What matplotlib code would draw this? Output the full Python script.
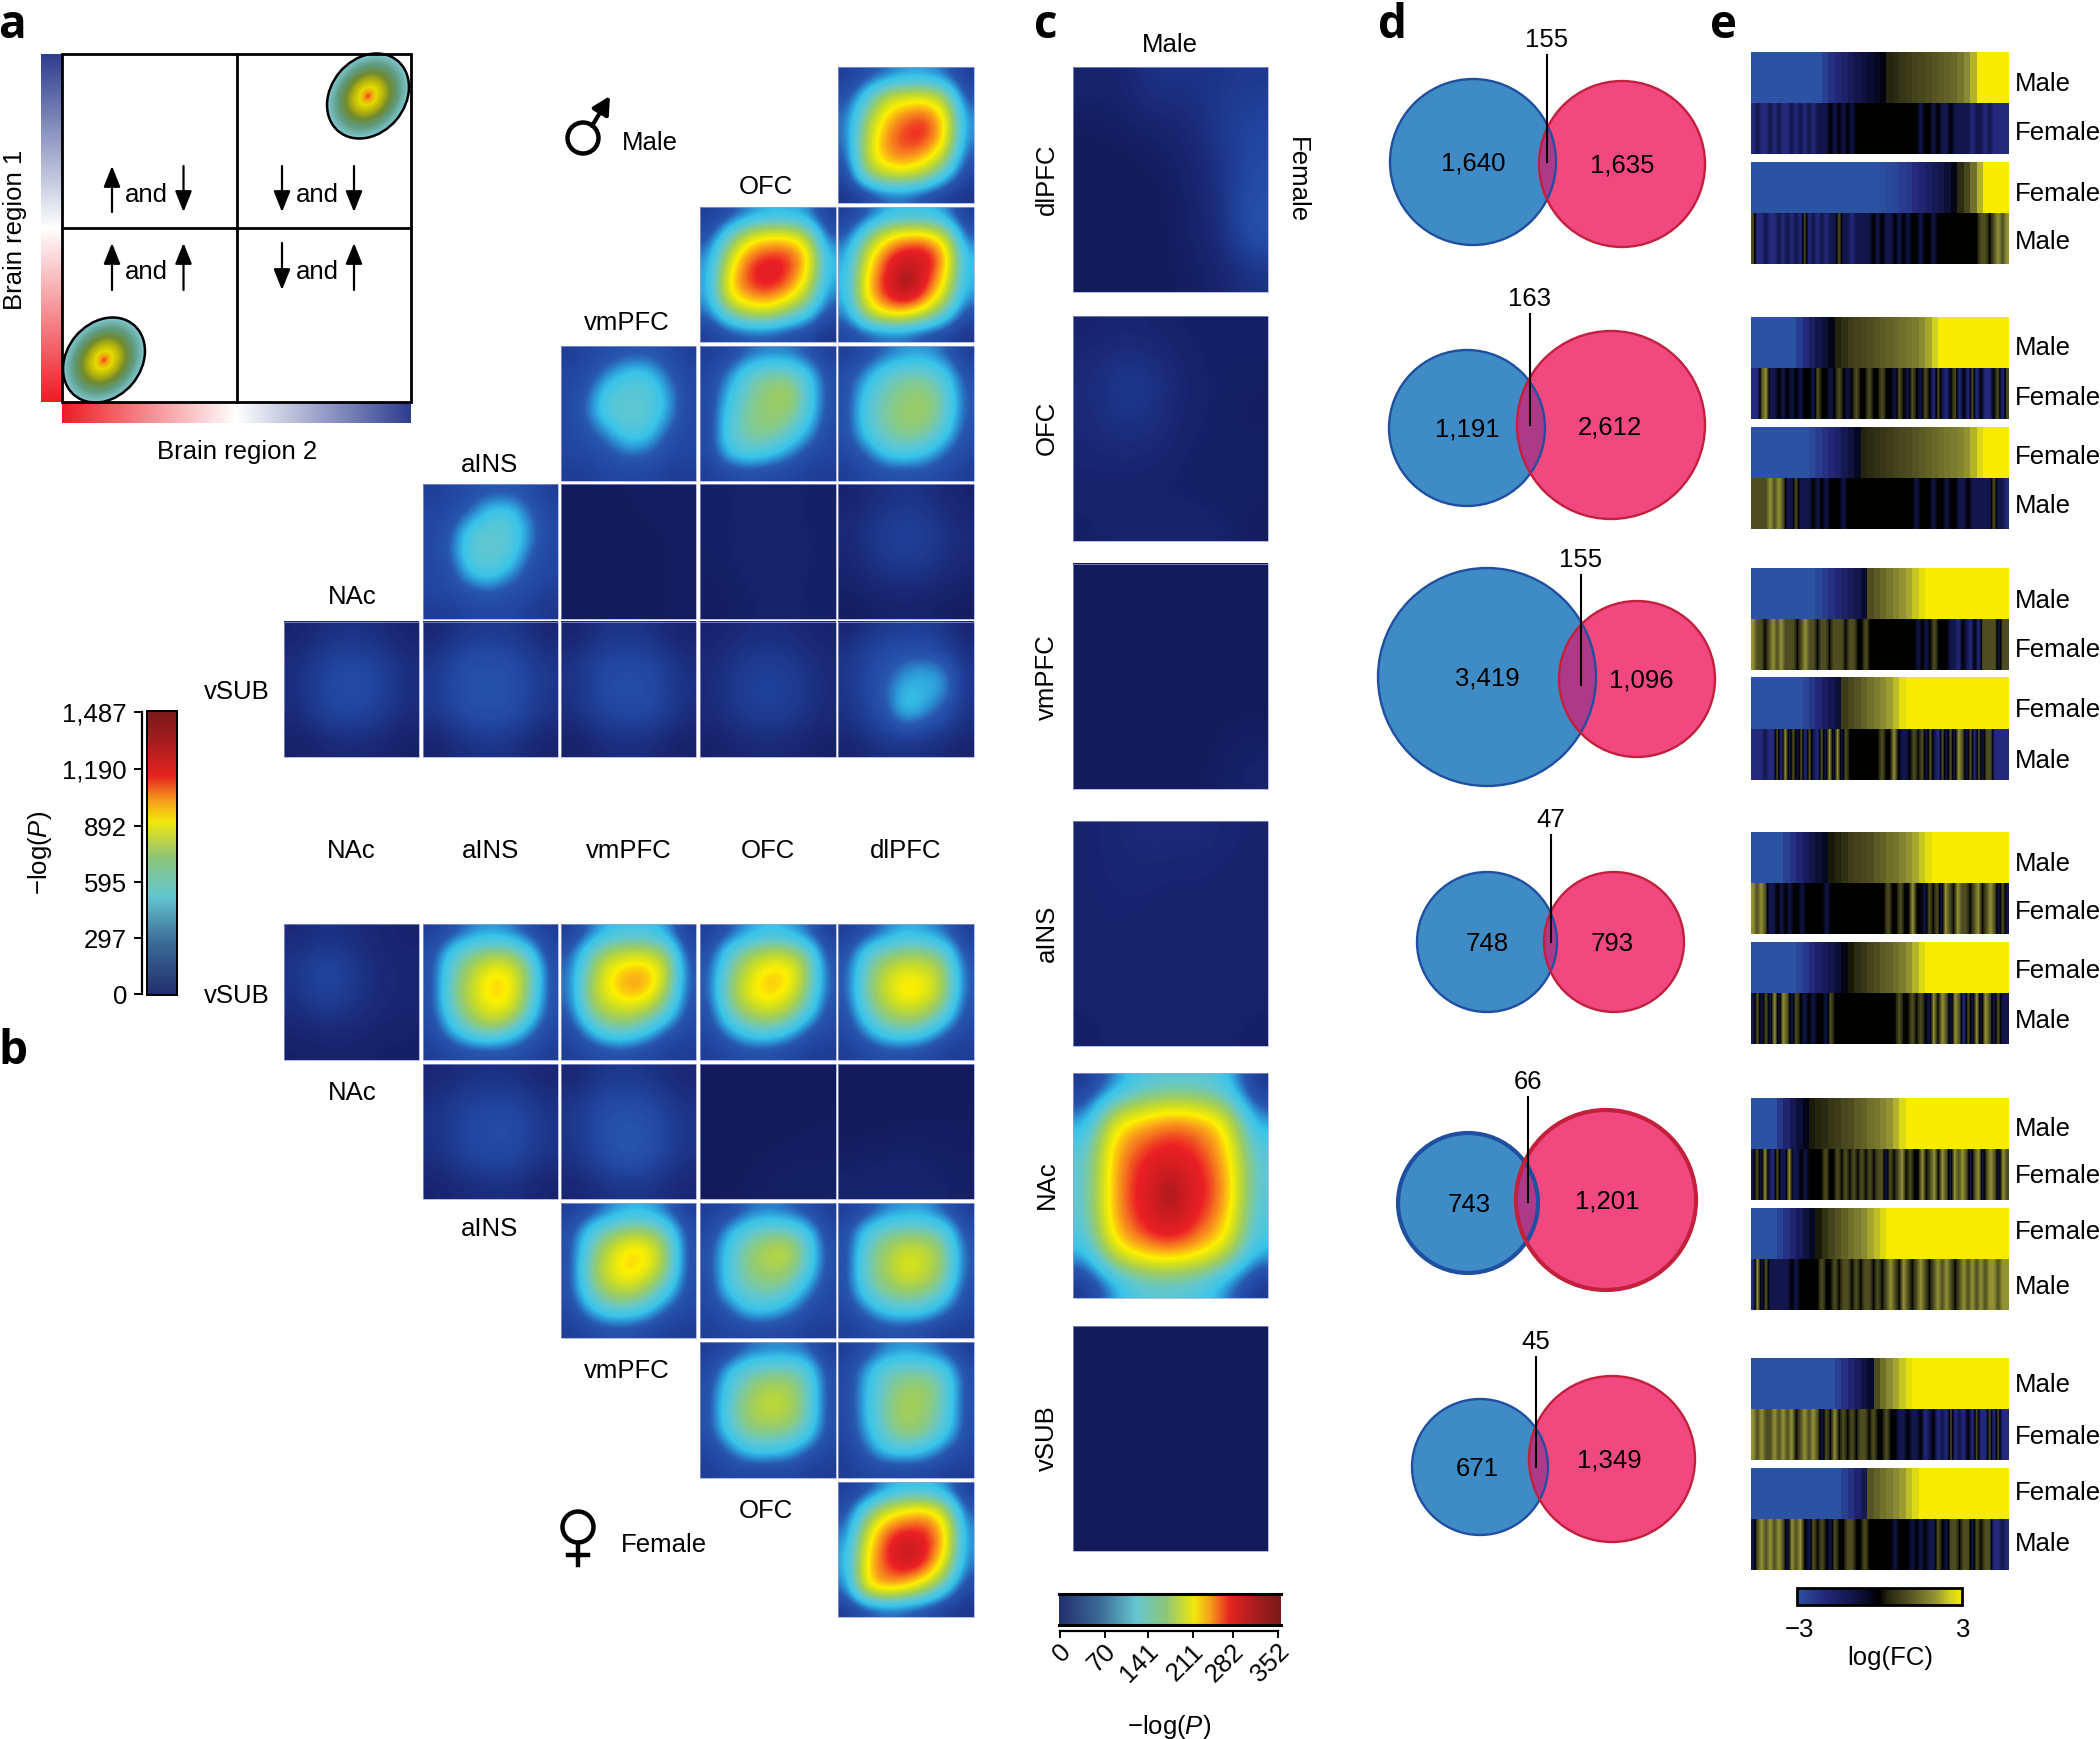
import matplotlib
import numpy as np

matplotlib.use("Agg")
import matplotlib.pyplot as plt
from matplotlib.colors import LinearSegmentedColormap
from matplotlib.patches import Circle, Ellipse, Rectangle

plt.rcParams["font.family"] = ["Liberation Sans", "DejaVu Sans"]
plt.rcParams["mathtext.fontset"] = "custom"
plt.rcParams["mathtext.it"] = "Liberation Sans:italic"
plt.rcParams["mathtext.rm"] = "Liberation Sans"

# --- values ---
REGIONS = ["NAc", "aINS", "vmPFC", "OFC", "dlPFC"]
LEFT_TICKS = ["0", "297", "595", "892", "1,190", "1,487"]
C_TICKS = ["0", "70", "141", "211", "282", "352"]
C_LABELS = ["dlPFC", "OFC", "vmPFC", "aINS", "NAc", "vSUB"]

# male triangle, cells are top to bottom, 0 = navy, 1 = darkest red
M_R1C5 = [[.10, .14, .18, .22, .22, .18, .10], [.14, .30, .50, .54, .56, .46, .14], [.18, .42, .64, .72, .76, .62, .20],
          [.18, .50, .70, .78, .80, .64, .20], [.16, .52, .70, .74, .68, .52, .16], [.12, .44, .54, .56, .48, .30, .12],
          [.08, .12, .18, .18, .14, .10, .08]]
M_R2C4 = [[.10, .14, .20, .24, .24, .22, .10], [.14, .34, .54, .60, .60, .50, .16], [.20, .50, .72, .78, .78, .66, .24],
          [.22, .60, .78, .84, .78, .62, .24], [.22, .62, .72, .76, .68, .50, .20], [.18, .38, .50, .52, .40, .30, .14],
          [.10, .14, .16, .16, .14, .12, .08]]
M_R2C5 = [[.10, .16, .24, .26, .26, .22, .10], [.16, .38, .58, .66, .66, .54, .16], [.22, .54, .76, .84, .84, .70, .24],
          [.24, .62, .80, .92, .82, .64, .24], [.24, .64, .80, .92, .78, .54, .22], [.20, .50, .64, .64, .52, .34, .14],
          [.12, .16, .18, .18, .14, .12, .08]]
M_R3C3 = [[.10, .12, .14, .16, .16, .14, .10], [.12, .14, .22, .29, .29, .18, .12], [.12, .18, .32, .33, .33, .24, .12],
          [.12, .20, .33, .35, .33, .24, .12], [.12, .15, .22, .31, .29, .16, .12], [.12, .13, .15, .20, .18, .13, .12],
          [.10, .10, .12, .12, .12, .10, .10]]
M_R3C4 = [[.10, .12, .18, .20, .20, .16, .10], [.12, .20, .34, .40, .40, .30, .14], [.12, .26, .38, .44, .48, .34, .14],
          [.12, .30, .40, .44, .44, .32, .14], [.12, .32, .40, .42, .36, .24, .12], [.12, .28, .33, .30, .22, .14, .12],
          [.10, .12, .14, .12, .12, .10, .10]]
M_R3C5 = [[.10, .14, .18, .22, .22, .18, .10], [.14, .22, .34, .38, .38, .30, .14], [.14, .30, .38, .43, .44, .36, .16],
          [.14, .32, .40, .45, .46, .36, .16], [.14, .30, .38, .42, .40, .30, .14], [.12, .18, .30, .32, .28, .18, .12],
          [.10, .12, .14, .14, .14, .12, .10]]
M_R4C2 = [[.10, .12, .14, .16, .16, .14, .10], [.12, .13, .18, .29, .30, .18, .12], [.12, .16, .32, .34, .33, .22, .12],
          [.12, .18, .33, .35, .33, .18, .12], [.12, .14, .29, .32, .24, .14, .12], [.12, .13, .15, .18, .14, .13, .10],
          [.10, .10, .12, .12, .12, .10, .08]]
M_R4C3 = [[.00, .01, .01], [.00, .00, .01], [.00, .00, .01]]
M_R4C4 = [[.02, .03, .02], [.02, .04, .02], [.01, .03, .02]]
M_R4C5 = [[.03, .06, .08, .06, .03], [.05, .09, .11, .09, .05], [.04, .09, .11, .09, .05],
          [.03, .06, .07, .06, .03], [.01, .02, .03, .02, .01]]
M_R5C1 = [[.03, .06, .07, .06, .03], [.06, .11, .13, .11, .06], [.06, .12, .14, .12, .06],
          [.05, .11, .12, .10, .05], [.02, .04, .05, .04, .02]]
M_R5C2 = [[.04, .08, .09, .08, .04], [.08, .14, .15, .13, .08], [.09, .15, .16, .14, .08],
          [.08, .13, .15, .13, .07], [.03, .06, .08, .06, .03]]
M_R5C3 = [[.03, .07, .08, .06, .03], [.07, .12, .13, .12, .06], [.07, .13, .14, .13, .07],
          [.06, .11, .13, .12, .06], [.02, .05, .06, .05, .02]]
M_R5C4 = [[.03, .05, .06, .05, .03], [.05, .09, .10, .09, .05], [.05, .10, .12, .10, .05],
          [.05, .09, .10, .09, .05], [.02, .04, .05, .04, .02]]
M_R5C5 = [[.04, .07, .09, .10, .10, .08, .04], [.07, .11, .13, .14, .14, .11, .06], [.08, .12, .15, .21, .23, .20, .08],
          [.08, .12, .18, .26, .25, .23, .08], [.07, .11, .16, .29, .23, .16, .07], [.06, .09, .12, .16, .13, .10, .06],
          [.03, .05, .07, .07, .06, .05, .03]]

# female triangle
F_R1C1 = [[.05, .07, .06, .04, .03], [.08, .13, .09, .05, .04], [.07, .13, .09, .05, .04],
          [.05, .07, .06, .04, .03], [.02, .03, .03, .02, .02]]
F_R1C2 = [[.10, .14, .20, .22, .20, .14, .10], [.14, .30, .40, .44, .44, .32, .12], [.14, .36, .48, .62, .60, .42, .14],
          [.14, .38, .52, .65, .62, .40, .14], [.14, .34, .48, .58, .56, .34, .14], [.12, .24, .36, .42, .34, .20, .12],
          [.10, .12, .14, .14, .14, .12, .10]]
F_R1C3 = [[.10, .18, .26, .28, .28, .22, .10], [.16, .35, .48, .52, .52, .44, .14], [.18, .42, .60, .68, .68, .52, .16],
          [.18, .46, .60, .68, .66, .44, .16], [.16, .40, .50, .52, .46, .34, .14], [.12, .24, .36, .36, .28, .16, .12],
          [.10, .12, .14, .14, .12, .10, .10]]
F_R1C4 = [[.10, .16, .22, .26, .24, .18, .10], [.14, .32, .44, .50, .50, .40, .14], [.16, .38, .54, .64, .64, .46, .16],
          [.16, .42, .58, .66, .60, .42, .16], [.14, .36, .48, .54, .48, .32, .14], [.12, .22, .32, .34, .28, .16, .12],
          [.10, .12, .14, .14, .12, .10, .10]]
F_R1C5 = [[.10, .14, .20, .24, .22, .18, .10], [.14, .32, .40, .44, .44, .36, .14], [.16, .38, .52, .58, .56, .46, .16],
          [.16, .40, .54, .64, .60, .46, .16], [.14, .34, .46, .52, .48, .36, .14], [.12, .22, .34, .36, .32, .18, .12],
          [.10, .12, .14, .14, .12, .10, .10]]
F_R2C2 = [[.04, .06, .07, .06, .04], [.07, .11, .12, .12, .07], [.07, .12, .13, .14, .08],
          [.06, .11, .13, .12, .07], [.03, .05, .06, .06, .03]]
F_R2C3 = [[.04, .08, .09, .07, .04], [.08, .13, .14, .12, .07], [.08, .14, .18, .14, .08],
          [.07, .13, .17, .13, .07], [.04, .06, .08, .07, .04]]
F_R2C4 = [[.00, .00, .00], [.00, .00, .01], [.00, .02, .02]]
F_R2C5 = [[.00, .00, .00], [.00, .01, .01], [.03, .04, .02]]
F_R3C3 = [[.10, .14, .20, .24, .24, .18, .10], [.14, .30, .40, .46, .46, .36, .14], [.14, .36, .52, .64, .62, .44, .14],
          [.14, .40, .56, .65, .58, .42, .14], [.14, .36, .48, .52, .44, .30, .14], [.12, .24, .34, .34, .28, .16, .12],
          [.10, .12, .14, .14, .12, .10, .10]]
F_R3C4 = [[.10, .12, .18, .20, .18, .14, .10], [.12, .24, .34, .38, .38, .30, .12], [.14, .30, .42, .50, .52, .36, .14],
          [.14, .30, .42, .46, .46, .32, .14], [.12, .30, .36, .40, .36, .22, .12], [.12, .16, .28, .28, .22, .14, .12],
          [.10, .12, .12, .12, .12, .10, .10]]
F_R3C5 = [[.10, .14, .20, .22, .22, .16, .10], [.14, .30, .38, .40, .40, .34, .14], [.14, .36, .46, .54, .52, .42, .16],
          [.14, .38, .46, .58, .52, .42, .16], [.14, .34, .42, .46, .44, .34, .14], [.12, .20, .30, .32, .30, .20, .12],
          [.10, .12, .14, .14, .12, .10, .10]]
F_R4C4 = [[.10, .12, .18, .20, .20, .18, .10], [.12, .26, .36, .38, .40, .34, .14], [.14, .32, .42, .50, .48, .38, .14],
          [.14, .34, .46, .52, .50, .38, .14], [.14, .32, .42, .44, .42, .34, .14], [.12, .18, .30, .30, .28, .18, .12],
          [.10, .12, .12, .12, .12, .10, .10]]
F_R4C5 = [[.10, .14, .20, .22, .20, .16, .10], [.12, .24, .36, .38, .38, .32, .14], [.12, .26, .38, .46, .46, .36, .14],
          [.12, .26, .40, .48, .44, .34, .14], [.12, .24, .38, .46, .42, .32, .14], [.10, .18, .30, .32, .28, .18, .12],
          [.10, .12, .12, .12, .12, .10, .10]]
F_R5C5 = [[.10, .14, .22, .26, .26, .22, .10], [.14, .36, .54, .62, .66, .52, .16], [.18, .52, .74, .78, .78, .66, .20],
          [.22, .60, .78, .90, .82, .64, .20], [.22, .64, .76, .82, .76, .52, .18], [.18, .62, .68, .62, .48, .30, .12],
          [.10, .14, .18, .16, .14, .10, .08]]

# panel c, male vs female per region
C_DLPFC = [[.03, .03, .08, .07, .08, .09], [.01, .02, .03, .04, .09, .12], [.00, .00, .01, .03, .07, .13],
           [.00, .00, .00, .02, .06, .15], [.00, .00, .00, .02, .05, .16], [.00, .00, .00, .01, .03, .07]]
C_OFC = [[.03, .04, .03, .02, .02, .02], [.05, .09, .08, .03, .02, .02], [.05, .09, .07, .03, .02, .01],
         [.04, .05, .05, .02, .02, .02], [.03, .03, .02, .02, .01, .02], [.02, .03, .03, .03, .03, .01]]
C_VMPFC = [[.00, .00, .00, .00], [.00, .00, .00, .00], [.00, .00, .00, .00], [.00, .00, .00, .03]]
C_AINS = [[.03, .05, .05, .05, .03], [.03, .04, .03, .03, .02], [.03, .03, .02, .03, .03],
          [.03, .03, .03, .03, .03], [.02, .03, .03, .03, .02]]
C_NAC = [[.08, .20, .30, .32, .32, .28, .08], [.22, .60, .66, .74, .70, .60, .22], [.32, .68, .78, .80, .78, .66, .32],
         [.32, .70, .80, .94, .80, .72, .32], [.32, .70, .80, .90, .78, .68, .30], [.26, .60, .70, .74, .68, .56, .26],
         [.08, .22, .32, .32, .30, .20, .08]]
C_VSUB = [[.00, .00], [.00, .00]]

# panel d
BLUE_ONLY = ["1,640", "1,191", "3,419", "748", "743", "671"]
PINK_ONLY = ["1,635", "2,612", "1,096", "793", "1,201", "1,349"]
OVERLAP = ["155", "163", "155", "47", "66", "45"]

# panel e, sorted strip (top) of each block, log(FC)
E1A_TOP = [-3, -3, -3, -3, -3, -3, -3, -3, -3, -3, -3, -2.6, -2.2, -1.9, -1.6, -1.3, -1, -.8, -.6, -.4, -.2,
           .3, .4, .6, .7, .8, .9, 1, 1.1, 1.2, 1.3, 1.4, 1.6, 1.9, 2.3, 3, 3, 3, 3, 3]
E1B_TOP = [-3, -3, -3, -3, -3, -3, -3, -3, -3, -3, -3, -3, -3, -3, -3, -3, -3, -3, -3, -3, -2.9, -2.8, -2.7, -2.5,
           -2.3, -2, -1.8, -1.5, -1.2, -1, -.7, -.3, .4, .9, 1.5, 2.3, 3, 3, 3, 3]
E2A_TOP = [-3, -3, -3, -3, -3, -3, -3, -2.5, -2, -1.5, -1, -.7, -.3, .3, .5, .7, .8, .9, 1, 1.1, 1.2, 1.3, 1.4,
           1.5, 1.6, 1.7, 1.9, 2.2, 2.6, 3, 3, 3, 3, 3, 3, 3, 3, 3, 3, 3]
E2B_TOP = [-3, -3, -3, -3, -3, -3, -3, -3, -3, -2.8, -2.5, -2.2, -1.9, -1.6, -1.2, -.8, -.4, .3, .4, .5, .6, .7, .8,
           .9, 1, 1.1, 1.2, 1.3, 1.4, 1.5, 1.6, 1.7, 1.8, 2, 2.3, 2.7, 3, 3, 3, 3]
E3A_TOP = [-3, -3, -3, -3, -3, -3, -3, -3, -3, -3, -2.8, -2.5, -2.2, -1.9, -1.6, -1.3, -1, -.6, 1, 1.2, 1.4, 1.6,
           1.8, 2, 2.2, 2.5, 2.8, 3, 3, 3, 3, 3, 3, 3, 3, 3, 3, 3, 3, 3]
E3B_TOP = [-3, -3, -3, -3, -3, -3, -3, -3, -2.7, -2.3, -1.9, -1.5, -1.1, -.7, .7, .9, 1.1, 1.3, 1.5, 1.7, 1.9, 2.1,
           2.4, 2.8, 3, 3, 3, 3, 3, 3, 3, 3, 3, 3, 3, 3, 3, 3, 3, 3]
E4A_TOP = [-3, -3, -3, -3, -3, -2.6, -2.2, -1.8, -1.4, -1, -.7, -.4, .2, .3, .5, .7, .8, .9, 1, 1.2, 1.3, 1.5, 1.6,
           1.8, 2, 2.2, 2.5, 2.8, 3, 3, 3, 3, 3, 3, 3, 3, 3, 3, 3, 3]
E4B_TOP = [-3, -3, -3, -3, -3, -3, -3, -2.7, -2.4, -2, -1.6, -1.3, -1, -.7, -.3, .2, .4, .6, .8, 1, 1.2, 1.3, 1.5,
           1.7, 2, 2.3, 2.7, 3, 3, 3, 3, 3, 3, 3, 3, 3, 3, 3, 3, 3]
E5A_TOP = [-3, -3, -3, -3, -2.4, -1.8, -1.2, -.7, -.3, .2, .3, .4, .6, .7, .9, 1, 1.2, 1.3, 1.5, 1.6, 1.8, 2, 2.3,
           2.7, 3, 3, 3, 3, 3, 3, 3, 3, 3, 3, 3, 3, 3, 3, 3, 3]
E5B_TOP = [-3, -3, -3, -3, -2.6, -2.2, -1.8, -1.3, -.8, -.4, .2, .5, .8, 1.1, 1.3, 1.5, 1.7, 1.9, 2.2, 2.4, 2.7,
           3, 3, 3, 3, 3, 3, 3, 3, 3, 3, 3, 3, 3, 3, 3, 3, 3, 3, 3]
E6A_TOP = [-3, -3, -3, -3, -3, -3, -3, -3, -3, -3, -3, -3, -3, -2.6, -2.2, -1.8, -1.4, -.9, -.5, 1, 1.5, 1.9, 2.2,
           2.5, 2.8, 3, 3, 3, 3, 3, 3, 3, 3, 3, 3, 3, 3, 3, 3, 3]
E6B_TOP = [-3, -3, -3, -3, -3, -3, -3, -3, -3, -3, -3, -3, -3, -3, -2.6, -2.2, -1.7, -1.2, 1.1, 1.3, 1.5, 1.7, 1.9,
           2.1, 2.4, 2.7, 3, 3, 3, 3, 3, 3, 3, 3, 3, 3, 3, 3, 3, 3]

# panel e, same genes in the other sex (bottom strip of each block)
E1A_BOT = [-2, -1, -2, -2, -1, -2, -1, -2, -2, -1, -2, -1, -2, -1, -2, -1, -1, -1, 0, -1, 0, -1, 0, -1, 0, 0, 0, 0, 0, 0,
           0, 0, 0, 0, 0, 0, 0, 0, 0, -1, 0, 0, -1, 0, -1, -1, 0, -1, -1, -1, -1, -2, -1, -1, -2, -1, -2, -2, -2, -2]
E1B_BOT = [1, -2, -2, -1, -2, -2, -1, -2, -1, -2, -1, -2, 1, -2, -1, -2, -1, -2, -1, -1, 1, -1, -1, -2, -1, -1, -1, -1, 0, -1,
           0, -1, -1, 0, -1, 0, -1, 0, 0, -1, 0, 0, -1, 0, 0, 0, 0, 0, 0, 0, 0, 0, 0, 1, 1, 0, 1, 2, 1, 2]
E2A_BOT = [-2, -2, 1, 2, -1, -1, 0, -1, 0, -1, 0, -1, 0, 0, -1, 1, 0, 0, -1, 0, 1, 0, -1, 0, 1, 0, 0, 1, 0, 0,
           1, 0, 0, -1, 1, 0, -1, 1, 0, -1, 1, 0, -2, 1, -1, -2, 0, 1, -2, 0, -2, 1, -2, 0, -2, -2, 0, 1, -2, 1]
E2B_BOT = [1, 1, 1, 1, 2, 1, 2, 1, -1, -1, 1, -1, -1, -1, 0, -1, 0, -1, 0, 0, 0, -1, 0, 0, 0, 0, 0, 0, 0, 0,
           0, 0, 0, 0, 0, 0, 0, 0, -1, 0, 0, 0, -1, 0, 0, -1, 0, 0, -1, -1, 0, -1, -1, -1, -1, -1, 1, -1, -1, -2]
E3A_BOT = [2, 1, 1, 0, 1, 2, 1, 2, 1, 1, 1, 0, 1, 2, 1, 1, 0, 1, 1, 0, 1, 1, 1, 0, 1, 1, 0, 0, 1, 0, 0, 0,
           0, 0, 0, 0, 0, 0, 0, 0, 0, -1, 0, -1, 0, 1, 0, 0, 0, -1, -1, -2, 0, -1, -2, 0, -2, 1, 1, 1, 1, -1, 1, 1]
E3B_BOT = [-2, -2, -2, -1, -2, -2, 1, -2, 2, -1, 1, -1, 1, -2, 1, -1, -2, 1, -1, 2, -1, 2, -1, 1, 0, 0, 0, 0, 0, 0, 0, 0,
           1, 0, 0, 2, 0, -1, -1, 0, 1, 0, 1, -1, 1, -1, -2, 1, -1, 1, -1, 2, 1, -1, 1, -2, 1, -1, 1, 1, -2, -2, -2, -2]
E4A_BOT = [2, 1, 2, 1, -1, -1, 0, -1, 0, -1, 0, 0, -1, 0, 0, 0, 0, 0, -1, 0, 0, 0, 0, 0, 0, 0, 0, 0, 0, 0, 0, 0,
           0, 1, 0, 0, 1, 0, 0, 2, 0, 0, -1, 1, 0, 1, -1, 2, 1, 0, 2, 1, 1, 0, 1, 2, 0, 1, 2, 1, -1, 1, -1]
E4B_BOT = [-1, 1, -1, 1, -1, 2, -1, 2, 1, -1, 1, 0, -1, 0, -1, 0, 0, -1, 1, 0, 0, 0, 0, 0, 0, 0, 0, 0, 0, 0,
           0, 0, 0, 0, 1, 0, 0, 1, 0, 1, 0, -1, 2, 0, 2, 1, -1, 2, 1, -2, 1, -1, 2, -1, 2, 1, -1, 1, -1, -1]
E5A_BOT = [-1, 1, -1, 2, -1, -2, 1, -1, -1, 2, -1, -1, 0, -1, 0, 0, 0, 0, 1, 0, 0, 1, 0, 1, 0, 1, 0, 1, 0, 1, 0, 1,
           1, -1, 1, 0, 1, 2, 0, 1, 0, 0, 2, 0, 1, 2, 0, 2, 1, -1, 2, 1, 2, 1, -1, 1, 2, -1, 1, 2, 1, -1, 2, 1]
E5B_BOT = [-2, 2, -1, 1, -1, -1, -1, -1, -1, 0, -1, 0, 0, 0, 0, 0, 1, 0, 0, 1, 0, 1, 1, 0, 1, 0, 1, 1, 0, 1,
           0, 1, 2, 1, 0, 2, 1, 0, 1, 2, 1, 0, 1, 2, 1, 2, 1, 0, 1, 2, 1, 2, 1, 2, 1, 2, 2, 1, 2, 2]
E6A_BOT = [2, 1, 2, 1, 1, 2, 1, 2, 1, 2, 0, 1, 2, 1, 2, 1, -1, 1, 0, 2, 0, 1, 0, 1, 0, 1, 1, 0, 1, 0,
           0, 1, 0, 0, -1, -1, 0, -1, -1, 0, -2, -1, 0, -2, -1, -2, 1, -2, -1, -2, 0, -2, 1, -2, -2, 1, -2, 1, -2, -2]
E6B_BOT = [-1, 1, 2, 1, 2, 1, 2, 1, -1, 2, 1, 2, 0, -1, 1, 0, 1, 0, -1, 1, 0, 0, 1, 1, 0, 0, 1, 0, 0, 0,
           0, 0, 0, -1, 0, 0, 0, -1, 0, -1, 0, -1, -1, 1, 0, -1, 1, 1, 0, 1, 1, -1, 1, 0, 1, 1, -2, -2, -1, -2]

# --- layout, in reference pixels ---
COL_X = [(284, 419), (423, 558), (561, 696), (700, 836), (838, 974)]
UP_Y = [(68, 204), (208, 343), (347, 482), (485, 620), (623, 758)]
LOW_Y = [(925, 1061), (1065, 1200), (1204, 1339), (1343, 1479), (1483, 1618)]
MALE_TILES = [(M_R1C5, 0, 4), (M_R2C4, 1, 3), (M_R2C5, 1, 4), (M_R3C3, 2, 2), (M_R3C4, 2, 3), (M_R3C5, 2, 4),
              (M_R4C2, 3, 1), (M_R4C3, 3, 2), (M_R4C4, 3, 3), (M_R4C5, 3, 4), (M_R5C1, 4, 0), (M_R5C2, 4, 1),
              (M_R5C3, 4, 2), (M_R5C4, 4, 3), (M_R5C5, 4, 4)]
FEMALE_TILES = [(F_R1C1, 0, 0), (F_R1C2, 0, 1), (F_R1C3, 0, 2), (F_R1C4, 0, 3), (F_R1C5, 0, 4), (F_R2C2, 1, 1),
                (F_R2C3, 1, 2), (F_R2C4, 1, 3), (F_R2C5, 1, 4), (F_R3C3, 2, 2), (F_R3C4, 2, 3), (F_R3C5, 2, 4),
                (F_R4C4, 3, 3), (F_R4C5, 3, 4), (F_R5C5, 4, 4)]
C_TILES = [(C_DLPFC, 68, 293), (C_OFC, 317, 542), (C_VMPFC, 565, 790), (C_AINS, 822, 1047),
           (C_NAC, 1074, 1299), (C_VSUB, 1327, 1552)]
C_LABEL_Y = [179, 428, 677, 933, 1185, 1438]
C_TICK_X = [1060, 1105, 1148, 1193, 1233, 1278]
LEFT_TICK_Y = [995, 939, 883, 827, 770, 713]

# blue cx, cy, r, pink cx, cy, r, line x, line top, line bottom, edge width
VENN = [(1473, 163, 83, 1622, 165, 83, 1547, 56, 163, 1.7),
        (1467, 429, 78, 1611, 426, 94, 1530, 315, 426, 1.7),
        (1487, 678, 109, 1637, 680, 78, 1581, 576, 686, 1.7),
        (1487, 943, 70, 1614, 943, 70, 1551, 836, 943, 1.7),
        (1468, 1204, 70, 1606, 1201, 90, 1528, 1098, 1203, 3.0),
        (1480, 1468, 68, 1612, 1460, 83, 1536, 1358, 1468, 1.7)]
VENN_TXT_X = [(1473, 1622), (1467, 1610), (1487, 1641), (1487, 1612), (1469, 1607), (1477, 1609)]
E_Y0 = [53, 318, 569, 833, 1099, 1359]
E_LABEL_Y = [(84, 133, 194, 242), (348, 398, 457, 506), (601, 650, 710, 761),
             (864, 912, 971, 1021), (1129, 1176, 1232, 1287), (1385, 1437, 1493, 1544)]
E_LABELS = ["Male", "Female", "Female", "Male"]
E_STRIPS = [(E1A_TOP, E1A_BOT, E1B_TOP, E1B_BOT), (E2A_TOP, E2A_BOT, E2B_TOP, E2B_BOT),
            (E3A_TOP, E3A_BOT, E3B_TOP, E3B_BOT), (E4A_TOP, E4A_BOT, E4B_TOP, E4B_BOT),
            (E5A_TOP, E5A_BOT, E5B_TOP, E5B_BOT), (E6A_TOP, E6A_BOT, E6B_TOP, E6B_BOT)]

HEAT = LinearSegmentedColormap.from_list("heat", [
    (0, "#141b5c"), (.05, "#1a2a78"), (.12, "#2247a3"), (.17, "#2858b0"), (.22, "#2d9ad8"), (.26, "#38c4ea"),
    (.34, "#62c8d0"), (.44, "#98cc6a"), (.52, "#c8dc28"), (.6, "#fdf000"), (.66, "#fbb416"), (.72, "#f6751f"),
    (.78, "#ec2024"), (.86, "#c81c20"), (.93, "#7d1a1a"), (1, "#4a0f10")])
BAR_CMAP = LinearSegmentedColormap.from_list("bar", [
    (0, "#232f6e"), (.18, "#3a6a96"), (.35, "#66c7d0"), (.48, "#8cc57a"), (.61, "#f2e80c"),
    (.68, "#f7a01c"), (.77, "#e52521"), (.88, "#ab1d1f"), (1, "#7b1a1a")])
FC_CMAP = LinearSegmentedColormap.from_list("fc", [
    (0, "#2b52a3"), (1 / 6, "#25297c"), (1 / 3, "#12164a"), (.42, "#080b28"), (.5, "#000000"), (.55, "#262610"),
    (.67, "#4f4f22"), (.83, "#8f8f34"), (.93, "#d0d020"), (1, "#f7ec00")])
RED_BLUE = LinearSegmentedColormap.from_list("rb", ["#ed1c24", "#ffffff", "#2e3d8f"])
BLOB = LinearSegmentedColormap.from_list("blob", [
    (0, "#f03020"), (.1, "#f0a010"), (.22, "#e6da00"), (.4, "#b0b010"), (.55, "#6f8a30"), (.75, "#5f9a80"),
    (1, "#80c8d2")])

FS = 18.5
fig = plt.figure(figsize=(21, 17.4), dpi=100)
ax = fig.add_axes([0, 0, 1, 1])


def tile(grid, x0, x1, y0, y1):
    ax.imshow(grid, cmap=HEAT, vmin=0, vmax=1, extent=(x0, x1, y1, y0), aspect="auto",
              interpolation="bicubic", interpolation_stage="data")
    ax.add_patch(Rectangle((x0, y0), x1 - x0, y1 - y0, fc="none", ec="#9aa0d8", lw=.5))


def txt(x, y, s, **kw):
    kw.setdefault("fontsize", FS)
    kw.setdefault("ha", "center")
    kw.setdefault("va", "center")
    if "rotation" not in kw:
        y += 2
    ax.text(x, y, s, **kw)


def arrow(x, y0, y1):
    ax.annotate("", xy=(x, y1), xytext=(x, y0),
                arrowprops=dict(arrowstyle="-|>,head_length=0.8,head_width=0.32", color="k", lw=1.6,
                                mutation_scale=16, shrinkA=0, shrinkB=0))


# panel a
grad = np.linspace(0, 1, 256)
ax.imshow(grad[:, None], cmap=RED_BLUE, extent=(41, 62, 403, 55), aspect="auto", origin="lower")
ax.imshow(grad[None, :], cmap=RED_BLUE, extent=(62, 411, 424, 403), aspect="auto")
ax.add_patch(Rectangle((62, 55), 349, 348, fc="none", ec="k", lw=2, zorder=4))
ax.plot([236.5, 236.5], [55, 403], color="k", lw=2, zorder=4)
ax.plot([62, 411], [229, 229], color="k", lw=2, zorder=4)
for cx, cy in [(368, 97), (104, 361)]:
    for f in np.linspace(1, .02, 50):
        ax.add_patch(Ellipse((cx, cy), 92 * f, 74 * f, angle=-50, fc=BLOB(f), ec="none", zorder=3))
    ax.add_patch(Ellipse((cx, cy), 92, 74, angle=-50, fc="none", ec="k", lw=1.8, zorder=4))
for x1, x2, y_txt, y_a, y_b, dir1, dir2 in [(112, 183.5, 193, 213, 167, 1, -1), (282, 354, 193, 213, 167, -1, -1),
                                            (112, 183.5, 270, 291, 244, 1, 1), (282, 354, 270, 291, 244, -1, 1)]:
    arrow(x1, *((y_a, y_b) if dir1 > 0 else (y_b, y_a)))
    arrow(x2, *((y_a, y_b) if dir2 > 0 else (y_b, y_a)))
    txt((x1 + x2) / 2 - 1, y_txt, "and")
txt(237, 450, "Brain region 2")
txt(15, 230, "Brain region 1", rotation=90)

# triangles
for grid, r, c in MALE_TILES:
    tile(grid, COL_X[c][0], COL_X[c][1], UP_Y[r][0], UP_Y[r][1])
for grid, r, c in FEMALE_TILES:
    tile(grid, COL_X[c][0], COL_X[c][1], LOW_Y[r][0], LOW_Y[r][1])

for (lab, x, y) in [("OFC", 766, 185), ("vmPFC", 627, 321), ("aINS", 489, 463), ("NAc", 352, 595), ("vSUB", 237, 690),
                    ("vSUB", 237, 994), ("NAc", 352, 1091), ("aINS", 489, 1227), ("vmPFC", 627, 1369), ("OFC", 766, 1509)]:
    txt(x, y, lab)
for lab, (x0, x1) in zip(REGIONS, COL_X):
    txt((x0 + x1) / 2, 849, lab)
txt(650, 141, "Male")
txt(621, 1543, "Female", ha="left")

# sex symbols
ax.add_patch(Circle((583, 139), 15.5, fc="none", ec="k", lw=3.2))
ax.annotate("", xy=(610, 97), xytext=(592, 127),
            arrowprops=dict(arrowstyle="-|>,head_length=0.8,head_width=0.42", color="k", lw=3,
                            mutation_scale=13, shrinkA=0, shrinkB=0))
ax.add_patch(Circle((578, 1528), 15.5, fc="none", ec="k", lw=3.2))
ax.plot([578, 578], [1544, 1566], color="k", lw=3.2)
ax.plot([568, 588], [1556, 1556], color="k", lw=3.2)

# colourbar left
ax.imshow(grad[:, None], cmap=BAR_CMAP, extent=(147, 177, 996, 712), aspect="auto", origin="lower")
ax.add_patch(Rectangle((147, 712), 30, 284, fc="none", ec="k", lw=1.4))
ax.plot([142, 142], [LEFT_TICK_Y[0], LEFT_TICK_Y[-1]], color="k", lw=1.6)
for y, lab in zip(LEFT_TICK_Y, LEFT_TICKS):
    ax.plot([135, 142], [y, y], color="k", lw=1.4)
    txt(127, y, lab, ha="right")
txt(40, 853, "\u2212log($\\mathit{P}$)", rotation=90)

# panel c
for (grid, y0, y1), lab, ly in zip(C_TILES, C_LABELS, C_LABEL_Y):
    tile(grid, 1073, 1268, y0, y1)
    txt(1047, ly, lab, rotation=90)
txt(1170, 43, "Male")
txt(1297, 180, "Female", rotation=-90)
ax.imshow(grad[None, :], cmap=BAR_CMAP, extent=(1059, 1281, 1626, 1595), aspect="auto")
ax.plot([1059, 1281], [1595, 1595], color="k", lw=2.2)
ax.plot([1059, 1281], [1626, 1626], color="k", lw=2.2)
ax.plot([C_TICK_X[0], C_TICK_X[-1]], [1632, 1632], color="k", lw=1.6)
for x, lab in zip(C_TICK_X, C_TICKS):
    ax.plot([x, x], [1632, 1638], color="k", lw=1.4)
    txt(x + 7, 1648, lab, rotation=45, ha="right", va="center", rotation_mode="anchor")
txt(1169, 1725, "\u2212log($\\mathit{P}$)")

# panel d
for (bx, by, br, px, py, pr, lx, ly0, ly1, lw), (tb, tp), n1, n2, n3 in zip(VENN, VENN_TXT_X, BLUE_ONLY, PINK_ONLY, OVERLAP):
    ax.add_patch(Circle((bx, by), br, fc="#3f8bc6", ec="none"))
    ax.add_patch(Circle((px, py), pr, fc="#f0487f", ec="none"))
    lens = Circle((bx, by), br, fc="#ad3a88", ec="none")
    ax.add_patch(lens)
    lens.set_clip_path(Circle((px, py), pr, transform=ax.transData))
    ax.add_patch(Circle((bx, by), br, fc="none", ec="#1f4fa0", lw=lw))
    ax.add_patch(Circle((px, py), pr, fc="none", ec="#c2203c", lw=lw))
    ax.plot([lx, lx], [ly0, ly1], color="k", lw=1.5)
    txt(tb, by - 1, n1)
    txt(tp, py - 1, n2)
    txt(lx, ly0 - 18, n3)

# panel e
for y0, ys, (a_top, a_bot, b_top, b_bot) in zip(E_Y0, E_LABEL_Y, E_STRIPS):
    for off, strip, interp in zip([0, 51, 110, 161], [a_top, a_bot, b_top, b_bot],
                                  ["nearest", "bilinear", "nearest", "bilinear"]):
        ax.imshow(np.array(strip)[None, :], cmap=FC_CMAP, vmin=-3, vmax=3, aspect="auto",
                  extent=(1751, 2009, y0 + off + 51, y0 + off), interpolation=interp, interpolation_stage="data")
    for y, lab in zip(ys, E_LABELS):
        txt(2015, y, lab, ha="left", rotation=0)
ax.imshow(grad[None, :], cmap=FC_CMAP, extent=(1797, 1962, 1606, 1589), aspect="auto")
ax.add_patch(Rectangle((1797, 1589), 165, 17, fc="none", ec="k", lw=2))
txt(1799, 1628, "\u22123")
txt(1963, 1628, "3")
txt(1890, 1656, "log(FC)")

# panel letters
for lab, x, y in [("a", 12, 24), ("b", 13, 1050), ("c", 1046, 24), ("d", 1393, 23), ("e", 1724, 24)]:
    txt(x, y, lab, fontsize=33, fontweight="bold", family=["Open Sans", "DejaVu Sans"])

ax.set_xlim(0, 2100)
ax.set_ylim(1740, 0)
ax.axis("off")
fig.savefig("out.png", dpi=100, facecolor="white")
